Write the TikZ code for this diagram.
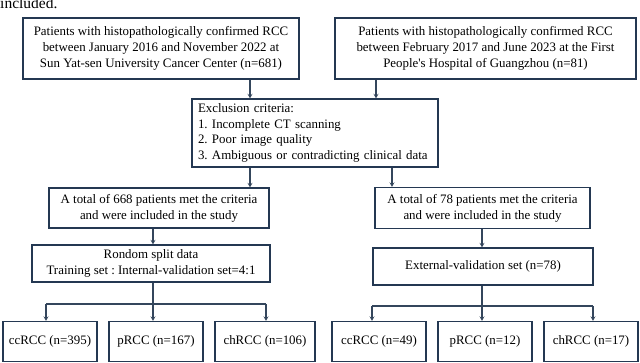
\documentclass[tikz,border=0pt]{standalone}
\usepackage{fontspec}
\setmainfont{Liberation Serif}
\usetikzlibrary{arrows.meta}
\definecolor{navy}{HTML}{243852}
\definecolor{conn}{HTML}{34465C}
\frenchspacing
\begin{document}
\begin{tikzpicture}[x=1pt,y=-1pt,
  box/.style={draw=navy,line width=1.4pt,fill=white,inner sep=0pt,align=center,
    font=\fontsize{12.9}{15.8}\selectfont},
  arr/.style={draw=conn,line width=1.1pt,-{Stealth[length=4.5pt,width=5pt,inset=1.8pt]}},
  ln/.style={draw=conn,line width=1.1pt}]
\useasboundingbox[fill=white] (0,0) rectangle (640,363);
\node[anchor=base west,inner sep=0pt,font=\fontsize{15.5}{17}\selectfont] (cap) at (0,8.5) {included.};
% top boxes
\node[box,minimum width=276pt,minimum height=61pt] (b1) at (161,48.5)
 {Patients with histopathologically confirmed RCC\\between January 2016 and November 2022 at\\Sun Yat-sen University Cancer Center (n=681)};
\node[box,minimum width=301pt,minimum height=61pt] (b2) at (485.5,48.5)
 {Patients with histopathologically confirmed RCC\\between February 2017 and June 2023 at the First\\People\textquotesingle s Hospital of Guangzhou (n=81)};
% exclusion
\node[box,minimum width=246pt,minimum height=68pt,align=left,text width=234pt] (ex) at (315,133)
 {Exclusion criteria:\\1. Incomplete CT scanning\\2. Poor image quality\\3. Ambiguous or contradicting clinical data};
% included
\node[box,minimum width=220pt,minimum height=40pt] (i1) at (159,208)
 {A total of 668 patients met the criteria\\and were included in the study};
\node[box,minimum width=215pt,minimum height=41pt] (i2) at (482.5,208)
 {A total of 78 patients met the criteria\\and were included in the study};
% split
\node[box,minimum width=238pt,minimum height=37pt] (rs) at (151,263.5)
 {Rondom split data\\Training set : Internal-validation set=4:1};
\node[box,minimum width=220pt,minimum height=37pt] (ev) at (483,266.5)
 {External-validation set (n=78)};
% leaves
\node[box,minimum width=94pt,minimum height=40pt] (l1) at (50,341.5) {ccRCC (n=395)};
\node[box,minimum width=94pt,minimum height=40pt] (l2) at (156,341.5) {pRCC (n=167)};
\node[box,minimum width=100pt,minimum height=40pt] (l3) at (265,341.5) {chRCC (n=106)};
\node[box,minimum width=94pt,minimum height=40pt] (r1) at (379,341.5) {ccRCC (n=49)};
\node[box,minimum width=94pt,minimum height=40pt] (r2) at (485,341.5) {pRCC (n=12)};
\node[box,minimum width=94pt,minimum height=40pt] (r3) at (591,341.5) {chRCC (n=17)};
% guide coordinates
\coordinate (xa) at (250,0);
\coordinate (xb) at (376,0);
\coordinate (xc) at (392,0);
\coordinate (xd) at (153,0);
\coordinate (xl1) at (46,0);
\coordinate (xl3) at (266,0);
\coordinate (xr) at (482,0);
\coordinate (xr1) at (372,0);
\coordinate (xr3) at (593,0);
\coordinate (hl) at (0,304);
\coordinate (hr) at (0,306);
% connectors
\draw[arr] (b1.south -| xa) -- (ex.north -| xa);
\draw[arr] (b2.south -| xb) -- (ex.north -| xb);
\draw[arr] (ex.south -| xa) -- (i1.north -| xa);
\draw[arr] (ex.south -| xc) -- (i2.north -| xc);
\draw[arr] (i1.south -| xd) -- (rs.north -| xd);
\draw[arr] (i2.south -| xr) -- (ev.north -| xr);
\draw[ln] (rs.south -| xd) -- (hl -| xd);
\draw[ln] (hl -| xl1) -- (hl -| xl3);
\draw[arr] (hl -| xl1) -- (l1.north -| xl1);
\draw[arr] (hl -| xd) -- (l2.north -| xd);
\draw[arr] (hl -| xl3) -- (l3.north -| xl3);
\draw[ln] (ev.south -| xr) -- (hr -| xr);
\draw[ln] (hr -| xr1) -- (hr -| xr3);
\draw[arr] (hr -| xr1) -- (r1.north -| xr1);
\draw[arr] (hr -| xr) -- (r2.north -| xr);
\draw[arr] (hr -| xr3) -- (r3.north -| xr3);
\end{tikzpicture}
\end{document}
